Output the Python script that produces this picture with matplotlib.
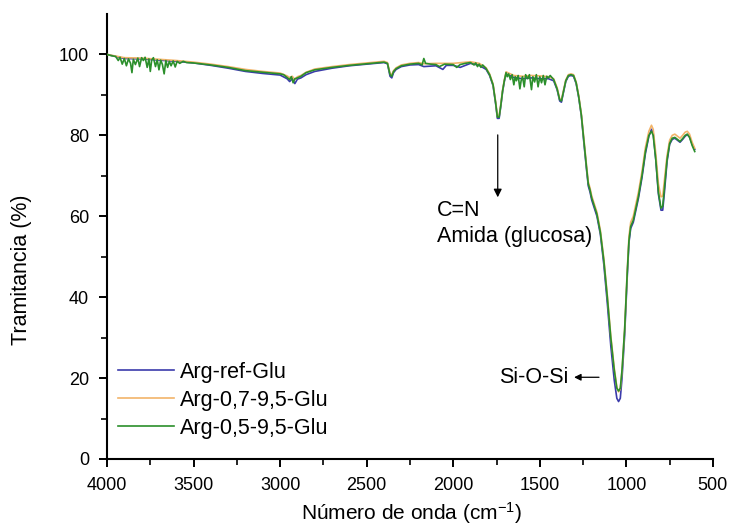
import numpy as np
import matplotlib
matplotlib.use("Agg")
import matplotlib.pyplot as plt
from matplotlib.ticker import MultipleLocator, FixedLocator

plt.rcParams['font.family'] = ['Liberation Sans', 'DejaVu Sans']
plt.rcParams['mathtext.default'] = 'regular'

# ---- datos ----
labels = ["Arg-ref-Glu", "Arg-0,7-9,5-Glu", "Arg-0,5-9,5-Glu"]
colors = ["#3b3bab", "#f2b46a", "#2b8f2b"]

# Arg-0,5-9,5-Glu (verde, encima)
wn_green = [4000, 3975, 3950, 3935, 3925, 3912, 3900, 3888, 3876, 3864, 3856, 3848, 3836, 3822,
            3812, 3800, 3790, 3780, 3768, 3758, 3750, 3742, 3732, 3720, 3710, 3700, 3690, 3680,
            3670, 3660, 3650, 3640, 3630, 3618, 3606, 3595, 3580, 3560, 3540, 3500,
            3400, 3300, 3200, 3100, 3000, 2980, 2960, 2945, 2935, 2925, 2915, 2900, 2880, 2850,
            2800, 2700, 2600, 2500, 2400, 2380, 2365, 2355, 2345, 2330, 2300, 2250, 2200, 2180,
            2170, 2160, 2130, 2100, 2080, 2050, 2000, 1980, 1960, 1930, 1900, 1880, 1870, 1860,
            1850, 1840, 1830, 1810, 1790, 1770, 1755, 1745, 1735, 1725, 1715, 1705, 1695, 1688,
            1680, 1670, 1660, 1650, 1642, 1635, 1625, 1615, 1608, 1600, 1590, 1582, 1570, 1560,
            1548, 1540, 1530, 1520, 1510, 1500, 1490, 1480, 1470, 1460, 1450, 1440, 1420, 1400,
            1385, 1375, 1365, 1350, 1335, 1320, 1305, 1290, 1275, 1260, 1245, 1230, 1220, 1210,
            1200, 1185, 1170, 1150, 1130, 1110, 1090, 1070, 1055, 1045, 1035, 1025, 1010, 995,
            985, 975, 960, 945, 930, 910, 890, 870, 855, 845, 830, 815, 800, 790, 780, 765, 750,
            735, 720, 705, 690, 675, 660, 648, 635, 620, 605]
t_green = [100, 99.7, 99.5, 98.5, 99.3, 97.6, 99.0, 97.2, 98.9, 97.8, 95.5, 98.8, 97.5, 99.1,
           97.0, 99.2, 98.5, 99.3, 96.8, 98.9, 95.8, 98.6, 99.2, 97.0, 98.7, 96.2, 98.6, 97.5,
           95.2, 98.5, 96.8, 98.3, 97.2, 98.4, 96.9, 98.3, 97.8, 98.3, 98.0, 97.9,
           97.4, 96.8, 96.0, 95.6, 95.2, 95.0, 94.3, 93.8, 94.5, 93.0, 94.0, 94.2, 94.6, 95.5,
           96.2, 96.8, 97.3, 97.7, 98.1, 97.8, 95.0, 94.6, 95.8, 96.5, 97.2, 97.6, 97.8, 97.4,
           99.0, 97.8, 97.6, 97.5, 97.0, 97.6, 97.5, 96.8, 97.5, 97.8, 98.0, 97.4, 97.9, 97.0,
           97.6, 96.8, 97.4, 96.5, 95.0, 92.5, 88.0, 84.5, 84.5, 87.5, 91.0, 93.5, 95.5, 94.5,
           95.2, 93.8, 95.0, 92.5, 94.5, 93.5, 94.8, 91.5, 93.5, 94.5, 92.0, 95.0, 94.0, 95.0,
           91.3, 94.5, 93.2, 95.0, 92.0, 94.5, 93.0, 94.8, 92.5, 94.6, 94.2, 94.8, 93.8, 91.5,
           88.8, 88.5, 90.5, 93.5, 94.8, 95.0, 94.8, 93.0, 89.5, 85.0, 78.5, 72.0, 68.0, 66.5,
           64.5, 62.5, 60.5, 56.0, 49.0, 40.0, 30.0, 22.0, 17.5, 16.8, 17.5, 22.0, 32.0, 46.0,
           54.0, 57.5, 59.0, 62.0, 65.0, 70.0, 76.0, 80.0, 81.0, 80.0, 74.0, 66.0, 62.0, 62.5,
           67.0, 74.0, 78.0, 79.3, 79.5, 79.0, 78.5, 79.2, 80.0, 80.3, 79.5, 77.5, 76.0]

# Arg-ref-Glu (azul)
wn_blue = [4000, 3900, 3800, 3700, 3600, 3500, 3400, 3300, 3200, 3100, 3000, 2960, 2945, 2930,
           2915, 2900, 2880, 2850, 2800, 2700, 2600, 2500, 2400, 2380, 2365, 2355, 2345, 2330,
           2300, 2250, 2200, 2170, 2100, 2060, 2040, 2000, 1960, 1900, 1850, 1810, 1790, 1770,
           1755, 1745, 1735, 1725, 1715, 1705, 1695, 1650, 1600, 1550, 1500, 1450, 1420, 1400,
           1385, 1375, 1365, 1350, 1335, 1320, 1305, 1290, 1275, 1260, 1245, 1230, 1220, 1210,
           1200, 1185, 1170, 1150, 1130, 1110, 1090, 1070, 1055, 1045, 1035, 1025, 1010, 995,
           985, 975, 960, 945, 930, 910, 890, 870, 855, 845, 830, 815, 800, 790, 780, 765, 750,
           735, 720, 705, 690, 675, 660, 648, 635, 620, 605]
t_blue = [100, 99.0, 98.9, 98.6, 98.3, 97.9, 97.3, 96.6, 95.8, 95.3, 94.9, 94.0, 93.3, 94.0,
          92.8, 93.9, 94.2, 95.0, 95.8, 96.6, 97.2, 97.6, 98.0, 97.7, 94.6, 94.2, 95.5, 96.3,
          97.0, 97.4, 97.5, 97.0, 97.2, 96.3, 97.3, 97.3, 96.8, 97.8, 97.3, 96.3, 94.8, 92.3,
          87.8, 84.2, 84.2, 87.3, 90.8, 93.3, 95.2, 94.3, 94.0, 94.2, 94.0, 94.0, 93.5, 91.3,
          88.5, 88.2, 90.3, 93.3, 94.6, 94.8, 94.6, 92.8, 89.3, 84.8, 78.0, 71.5, 67.5, 66.0,
          64.0, 62.0, 60.0, 55.5, 48.0, 38.5, 28.0, 19.5, 15.0, 14.2, 15.0, 20.0, 30.5, 45.0,
          53.5, 57.0, 58.5, 61.5, 64.5, 69.5, 75.5, 79.8, 81.5, 80.5, 74.0, 65.5, 61.5, 61.5,
          66.0, 73.5, 77.8, 79.0, 79.3, 78.8, 78.3, 79.0, 79.8, 80.2, 79.6, 77.8, 76.5]

# Arg-0,7-9,5-Glu (naranja)
wn_orange = [4000, 3900, 3800, 3700, 3600, 3500, 3400, 3300, 3200, 3100, 3000, 2960, 2945, 2930,
             2915, 2900, 2880, 2850, 2800, 2700, 2600, 2500, 2400, 2380, 2365, 2355, 2345, 2330,
             2300, 2250, 2200, 2170, 2100, 2000, 1900, 1850, 1810, 1790, 1770, 1755, 1745, 1735,
             1725, 1715, 1705, 1695, 1650, 1600, 1550, 1500, 1450, 1420, 1400, 1385, 1375, 1365,
             1350, 1335, 1320, 1305, 1290, 1275, 1260, 1245, 1230, 1220, 1210, 1200, 1185, 1170,
             1150, 1130, 1110, 1090, 1070, 1055, 1045, 1035, 1025, 1010, 995, 985, 975, 960, 945,
             930, 910, 890, 870, 855, 845, 830, 815, 800, 790, 780, 765, 750, 735, 720, 705, 690,
             675, 660, 648, 635, 620, 605]
t_orange = [100, 99.2, 99.1, 98.8, 98.5, 98.1, 97.6, 97.0, 96.3, 95.8, 95.4, 94.7, 94.3, 94.6,
            93.8, 94.5, 94.8, 95.6, 96.4, 97.0, 97.5, 97.9, 98.3, 98.0, 95.3, 95.0, 96.0, 96.7,
            97.4, 97.8, 98.0, 97.7, 97.8, 97.8, 98.2, 97.8, 96.7, 95.2, 92.7, 88.3, 84.8, 84.8,
            87.8, 91.2, 93.7, 95.7, 94.8, 94.6, 94.8, 94.7, 94.5, 94.0, 91.8, 89.0, 88.8, 90.8,
            93.7, 95.0, 95.2, 95.0, 93.2, 89.8, 85.3, 79.0, 72.5, 68.5, 67.0, 65.0, 63.0, 61.0,
            56.5, 49.5, 40.5, 30.5, 22.5, 17.8, 16.6, 17.3, 21.8, 32.0, 46.5, 55.0, 58.5, 60.0,
            63.0, 66.0, 71.0, 77.0, 81.0, 82.5, 81.5, 75.5, 68.0, 64.8, 65.0, 69.0, 75.0, 78.8,
            80.0, 80.3, 79.8, 79.3, 80.0, 80.8, 81.0, 80.3, 78.3, 76.8]

xticks = [4000, 3500, 3000, 2500, 2000, 1500, 1000, 500]
yticks = [0, 20, 40, 60, 80, 100]

# ---- figura ----
fig = plt.figure(figsize=(7.3, 5.28), dpi=100)
ax = fig.add_axes([0.1466, 0.1307, 0.830, 0.8428])

ax.plot(wn_blue, t_blue, color=colors[0], lw=1.2, label=labels[0], zorder=2)
ax.plot(wn_orange, t_orange, color=colors[1], lw=1.2, label=labels[1], zorder=3)
ax.plot(wn_green, t_green, color=colors[2], lw=1.2, label=labels[2], zorder=4)

ax.set_xlim(4000, 500)
ax.set_ylim(0, 110)
ax.xaxis.set_major_locator(FixedLocator(xticks))
ax.xaxis.set_minor_locator(FixedLocator([3750, 3250, 2750, 2250, 1750, 1250, 750]))
ax.yaxis.set_major_locator(FixedLocator(yticks))
ax.yaxis.set_minor_locator(FixedLocator([10, 30, 50, 70, 90]))

for s in ['top', 'right']:
    ax.spines[s].set_visible(False)
for s in ['left', 'bottom']:
    ax.spines[s].set_linewidth(1.5)

ax.tick_params(which='major', direction='out', length=6, width=1.4, labelsize=13)
ax.tick_params(which='minor', direction='out', length=4, width=1.2)
ax.tick_params(axis='x', which='major', pad=7)
ax.tick_params(axis='y', which='major', pad=7)

ax.set_xlabel('Número de onda (cm$^{-1}$)', fontsize=15)
ax.set_ylabel('Tramitancia (%)', fontsize=15.5)
ax.xaxis.set_label_coords(0.502, -0.093)
ax.yaxis.set_label_coords(-0.124, 0.425)

# anotaciones
ax.annotate('', xy=(1743, 64), xytext=(1743, 80.8),
            arrowprops=dict(arrowstyle='-|>', color='black', lw=0.9, mutation_scale=12))
ax.text(2095, 61.5, 'C=N', fontsize=15.5, ha='left', va='center')
ax.text(2095, 55, 'Amida (glucosa)', fontsize=15.5, ha='left', va='center')

ax.annotate('', xy=(1318, 20.2), xytext=(1142, 20.2),
            arrowprops=dict(arrowstyle='-|>', color='black', lw=0.9, mutation_scale=10))
ax.text(1335, 20.2, 'Si-O-Si', fontsize=15.5, ha='right', va='center')

ax.legend(loc='upper left', bbox_to_anchor=(0.018, 0.218), frameon=False, fontsize=15.5,
          handlelength=2.6, handletextpad=0.3, labelspacing=0.32, borderpad=0, borderaxespad=0)

fig.savefig('out.png', dpi=100)
